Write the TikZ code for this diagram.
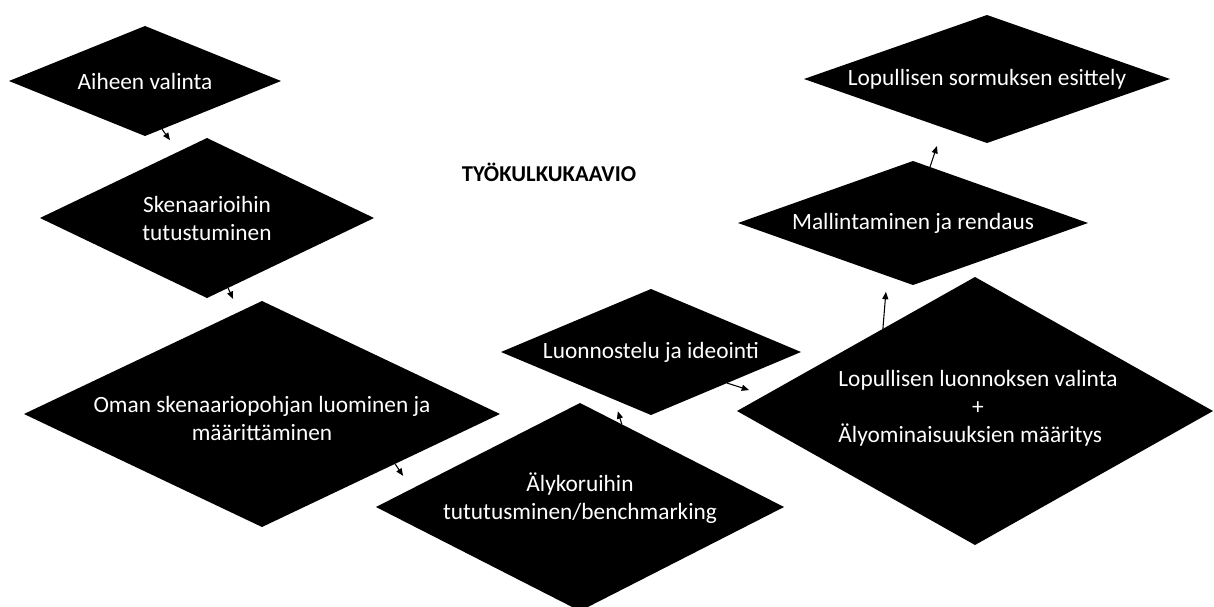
\documentclass[tikz,border=0pt]{standalone}
\usepackage{fontspec}
\setmainfont{Carlito}
\usetikzlibrary{shapes.geometric,arrows.meta,calc}
\begin{document}
\begin{tikzpicture}[x=0.75pt,y=-0.75pt,
  dia/.style={diamond,fill=black,draw=none,inner sep=0pt,outer sep=0pt},
  lbl/.style={text=white,font=\fontsize{17.5}{21}\selectfont,align=center,inner sep=0pt},
  arr/.style={draw=black,line width=0.8pt,-{Triangle[length=5.5pt,width=4.5pt]}},
  ttl/.style={font=\fontsize{17}{21}\selectfont\bfseries,text=black,inner sep=0pt}]
\useasboundingbox (0,0) rectangle (1214,607);
\fill[white] (0,0) rectangle (1214,607);

% diamonds
\node[dia,minimum width=204pt,minimum height=82.5pt] (d1) at (145,81) {};
\node[dia,minimum width=250.5pt,minimum height=120pt] (d2) at (207,218) {};
\node[dia,minimum width=357pt,minimum height=169.5pt] (d3) at (262,414) {};
\node[dia,minimum width=306pt,minimum height=156pt] (d4) at (580,507) {};
\node[dia,minimum width=225pt,minimum height=94.5pt] (d6) at (651,352) {};
\node[dia,minimum width=357pt,minimum height=201pt] (d7) at (975,411) {};
\node[dia,minimum width=262.5pt,minimum height=93pt] (d5) at (913,223) {};
\node[dia,minimum width=274.5pt,minimum height=96pt] (d8) at (987,79) {};

% labels
\node[lbl] (t1) at (d1.center) {Aiheen valinta};
\node[lbl] (t2) at (d2.center) {Skenaarioihin\\tutustuminen};
\node[lbl] (t3) at ($(d3.center)+(0,4)$) {Oman skenaariopohjan luominen ja\\määrittäminen};
\node[lbl] (t4) at ($(d4.center)+(0,-9)$) {Älykoruihin\\tututusminen/benchmarking};
\node[lbl] (t6) at (d6.center) {Luonnostelu ja ideointi};
\node[lbl] (t7) at ($(d7.center)+(3,-2)$) {\begin{tabular}{@{}l@{}}Lopullisen luonnoksen valinta\\ \multicolumn{1}{@{}c@{}}{+}\\ Älyominaisuuksien määritys\end{tabular}};
\node[lbl] (t5) at (d5.center) {Mallintaminen ja rendaus};
\node[lbl] (t8) at (d8.center) {Lopullisen sormuksen esittely};

\node[ttl] (title) at (549,172) {TYÖKULKUKAAVIO};

% connectors
\coordinate (a1s) at ($(d1.south)!0.125!(d1.east)$);
\coordinate (a1e) at ($(a1s)+(8,11)$);
\coordinate (a2s) at ($(d2.south)!0.126!(d2.east)$);
\coordinate (a2e) at ($(a2s)+(5,11)$);
\coordinate (a3s) at ($(d3.south)!0.559!(d3.east)$);
\coordinate (a3e) at ($(a3s)+(8,12)$);
\coordinate (a4s) at ($(d4.north)!0.205!(d4.east)$);
\coordinate (a4e) at ($(a4s)+(-4,-13)$);
\coordinate (a5s) at ($(d6.east)!0.493!(d6.south)$);
\coordinate (a5e) at ($(a5s)+(22,7)$);
\coordinate (a6s) at ($(d7.west)!0.613!(d7.north)$);
\coordinate (a6e) at ($(a6s)+(3,-37)$);
\coordinate (a7s) at ($(d5.north)!0.097!(d5.east)$);
\coordinate (a7e) at ($(a7s)+(7,-21)$);

\draw[arr] (a1s) -- (a1e);
\draw[arr] (a2s) -- (a2e);
\draw[arr] (a3s) -- (a3e);
\draw[arr] (a4s) -- (a4e);
\draw[arr] (a5s) -- (a5e);
\draw[arr] (a6s) -- (a6e);
\draw[arr] (a7s) -- (a7e);
\end{tikzpicture}
\end{document}
